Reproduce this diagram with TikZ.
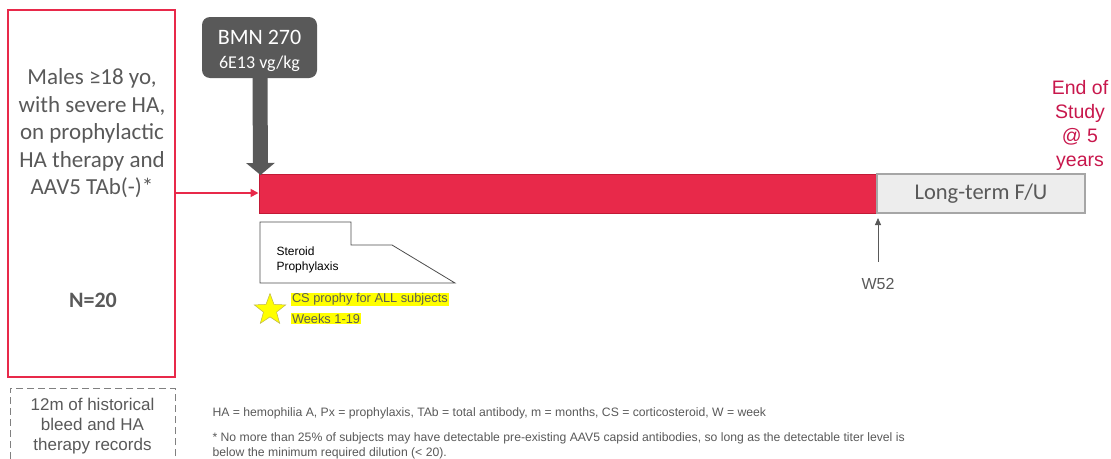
\documentclass[tikz,border=0pt]{standalone}
\usepackage{fontspec}
\setmainfont{Carlito}
\newfontfamily\arialfont{Liberation Sans}
\usetikzlibrary{arrows.meta,shapes.geometric}
\definecolor{crimson}{HTML}{E8294A}
\definecolor{darkcrimson}{HTML}{C21A36}
\definecolor{eosred}{HTML}{C8174C}
\definecolor{txtgray}{HTML}{595959}
\definecolor{lfugray}{HTML}{EDEDED}
\definecolor{lfuedge}{HTML}{A6A6A6}
\definecolor{hilite}{HTML}{FFFF00}
\tikzset{
  cohortbox/.style={draw=crimson,line width=1.8pt,minimum width=167pt,minimum height=367pt,inner sep=0pt},
  recordbox/.style={draw=gray,dashed,dash pattern=on 7pt off 4pt,line width=1pt,minimum width=165pt,minimum height=90pt,inner sep=0pt},
  dosebox/.style={fill=txtgray,rounded corners=8pt,minimum width=115pt,minimum height=61pt,text=white,align=center,inner sep=0pt},
  redbar/.style={fill=crimson,draw=darkcrimson,line width=1pt,minimum height=39pt,inner sep=0pt},
  graybar/.style={fill=lfugray,draw=lfuedge,line width=1.5pt,minimum height=39pt,inner sep=0pt,text=txtgray,font=\fontsize{22.5}{26}\selectfont},
  hl/.style={fill=hilite,inner sep=0.8pt,anchor=west,text=txtgray!90!olive,font=\arialfont\fontsize{12.8}{15}\selectfont}
}
\begin{document}
\begin{tikzpicture}[x=1pt,y=-1pt]
\useasboundingbox (0,0) rectangle (1111,458);
% cohort
\node[cohortbox] (cohort) at (91.5,193.5) {};
\node[text=txtgray,align=center,font=\fontsize{23}{27.5}\selectfont] (crit) at (92,133.5)
  {Males ≥18 yo,\\with severe HA,\\on prophylactic\\HA therapy and\\AAV5 TAb(-)*};
\node[text=txtgray,font=\bfseries\fontsize{22}{26}\selectfont] (n) at (93,300) {N=20};
\node[recordbox] (rec) at (92.5,433) {};
\node[text=txtgray,align=center,font=\arialfont\fontsize{17}{20}\selectfont] (rectxt) at (92.5,426)
  {12m of historical\\bleed and HA\\therapy records};
% dosing
\node[dosebox,font=\fontsize{18}{24}\selectfont] (bmn) at (259.5,47.5) {};
\node[text=white,align=center,font=\fontsize{18}{24}\selectfont] (bmntxt) at (259.5,50.5)
  {{\fontsize{22}{24}\selectfont BMN 270}\\{\fontsize{18}{22}\selectfont 6E13 vg/kg}};
\node[redbar,minimum width=618pt] (dose) at (568,193.5) {};
\node[graybar,minimum width=208pt] (lfu) at (981,193.5) {Long-term F/U};
\draw[txtgray,line width=15pt,-{Triangle[length=12pt,width=28pt]}] (bmn.south) ++(0.5,-1) -- (260.5,175);
\draw[crimson,line width=1.8pt,-{Triangle[length=8pt,width=8pt]}] (cohort.east |- 0,193) -- (dose.west |- 0,193);
\node[text=eosred,align=center,font=\arialfont\fontsize{19.5}{23.8}\selectfont] (eos) at (1080,125.5)
  {End of\\Study\\@ 5\\years};
% W52
\node[text=txtgray,font=\arialfont\fontsize{16}{19}\selectfont] (w52) at (878,284) {W52};
\draw[txtgray,line width=0.8pt,-{Triangle[length=7pt,width=6pt]}] (w52.north) ++(0,-13) -- (878,218);
% steroid
\draw[line width=0.8pt,draw=black!70] (260,222) -- (351,222) -- (351,245) -- (392,245) -- (455,283) -- (260,283) -- cycle;
\node[anchor=west,align=left,font=\arialfont\fontsize{12}{15}\selectfont] (ster) at (273,259.5) {Steroid\\Prophylaxis};
\node[star,star points=5,star point ratio=2.4,fill=hilite,draw=olive!60,line width=0.5pt,minimum size=33pt,inner sep=0pt] (star) at (270,310) {};
\node[hl] (cs1) at (291,299.5) {CS prophy for ALL subjects};
\node[hl] (cs2) at (291,318.5) {Weeks 1-19};
% footnotes
\node[anchor=west,text=txtgray,font=\arialfont\fontsize{12.2}{14}\selectfont] (abbr) at (209,413) {HA = hemophilia A, Px = prophylaxis, TAb = total antibody, m = months, CS = corticosteroid, W = week};
\node[anchor=north west,align=left,text=txtgray,font=\arialfont\fontsize{12.2}{14.5}\selectfont] (note) at (209,429.5)
  {* No more than 25\% of subjects may have detectable pre-existing AAV5 capsid antibodies, so long as the detectable titer level is\\below the minimum required dilution (< 20).};
\end{tikzpicture}
\end{document}
